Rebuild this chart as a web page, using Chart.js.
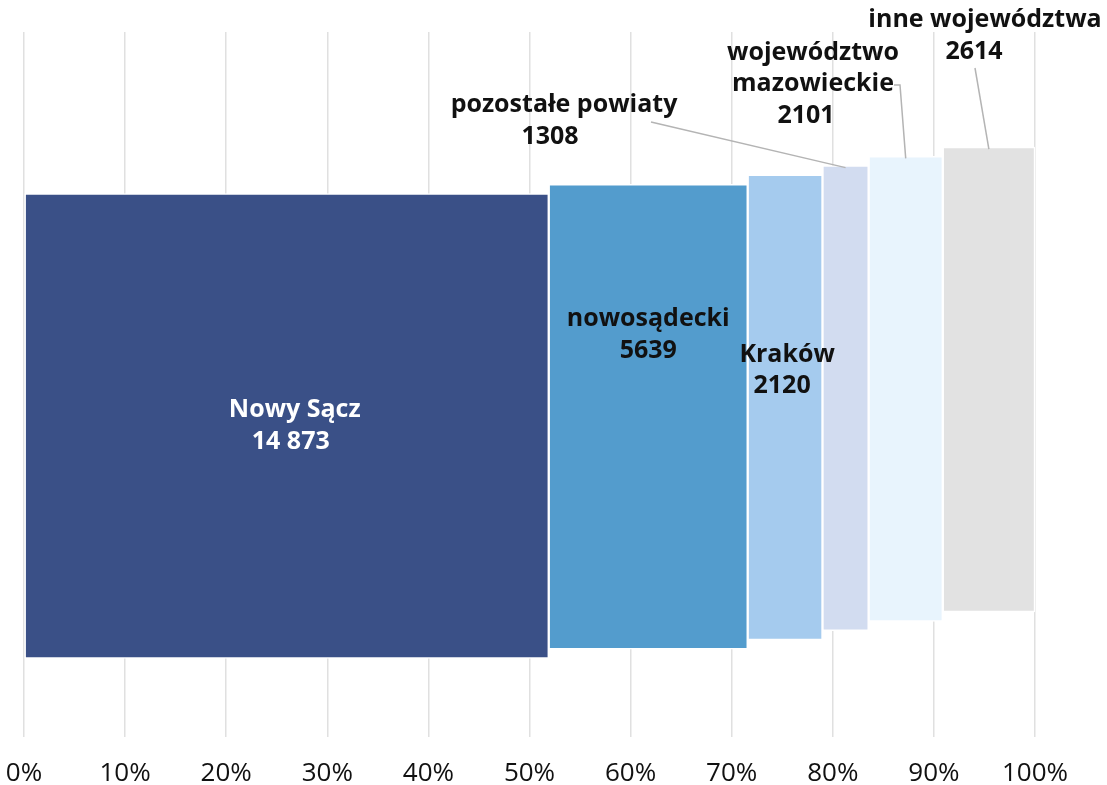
<!DOCTYPE html>
<html>
<head>
<meta charset="utf-8">
<script src="https://cdn.jsdelivr.net/npm/chart.js@4.4.1/dist/chart.umd.min.js"></script>
<style>
  html, body { margin: 0; padding: 0; background: #fff; }
  #wrap { width: 1107px; height: 785px; position: relative; }
</style>
</head>
<body>
<div id="wrap"><canvas id="mekko"></canvas></div>
<script>
// dane
const categories = ['Nowy Sącz', 'nowosądecki', 'Kraków', 'pozostałe powiaty', 'województwo mazowieckie', 'inne województwa'];
const values = [14873, 5639, 2120, 1308, 2101, 2614];
const barColors = ['#3a5087', '#539ccd', '#a5cbee', '#d2dcf0', '#e8f4fd', '#e2e2e2'];
const tickValues = [0, 10, 20, 30, 40, 50, 60, 70, 80, 90, 100];

// liczby w formacie polskim (spacja tysięcy)
function fmt(v) {
    return v >= 10000 ? String(v).replace(/\B(?=(\d{3})+(?!\d))/g, ' ') : String(v);
}

// szerokości w procentach, skumulowane
const total = values.reduce((a, b) => a + b, 0);
let acc = 0;
const spans = values.map(v => {
    const s = acc / total * 100;
    acc += v;
    return [s, acc / total * 100];
});

/* ===== etykiety i linie odniesienia ===== */
const labelPlugin = {
    id: 'mekkoLabels',
    afterDatasetsDraw(chart, args, opts) {
        const ctx = chart.ctx;
        const bars = chart.getDatasetMeta(0).data;
        ctx.save();
        ctx.font = 'bold 25px "Open Sans"';
        ctx.textAlign = 'center';
        ctx.textBaseline = 'middle';

        opts.items.forEach((it, i) => {
            const bar = bars[i].getProps(['x', 'y', 'base', 'height'], true);
            const cx = (bar.x + bar.base) / 2;
            const top = bar.y - bar.height / 2;
            const textLines = (it.split || [categories[i]]).concat([fmt(values[i])]);

            let tx, ty;
            if (it.inside) {
                tx = cx + (it.dx || 0);
                ty = bar.y + it.dy;
            } else {
                tx = it.x;
                ty = it.y;
                // linia odniesienia
                ctx.strokeStyle = '#b4b4b4';
                ctx.lineWidth = 1.5;
                ctx.beginPath();
                ctx.moveTo(it.line[0][0], it.line[0][1]);
                for (let k = 1; k < it.line.length; k++) ctx.lineTo(it.line[k][0], it.line[k][1]);
                ctx.lineTo(cx, top + 2);
                ctx.stroke();
            }
            ctx.fillStyle = it.color || '#111';
            const lh = 31.5;
            const start = ty - (textLines.length - 1) * lh / 2;
            textLines.forEach((t, k) => {
                const last = k === textLines.length - 1;
                ctx.fillText(t, tx + (last ? (it.numDx || 0) : 0), start + k * lh);
            });
        });
        ctx.restore();
    }
};

new Chart(document.getElementById('mekko'), {
    type: 'bar',
    data: {
        datasets: [{
            data: spans.map((s, i) => ({ x: s, y: i })),
            backgroundColor: barColors,
            borderColor: '#ffffff',
            borderWidth: 1.5,
            borderSkipped: false,
            barThickness: 465
        }]
    },
    options: {
        indexAxis: 'y',
        responsive: true,
        maintainAspectRatio: false,
        animation: false,
        layout: { padding: { left: 24, right: 72, top: 32, bottom: 0 } },
        plugins: {
            legend: { display: false },
            tooltip: { enabled: false },
            mekkoLabels: {
                items: [
                    { inside: true, dx: 8, dy: 0, color: '#ffffff', numDx: -4 },
                    { inside: true, dy: -82 },
                    { inside: true, dx: 2, dy: -37, numDx: -5 },
                    { x: 564, y: 121, numDx: -14, line: [[651, 122]] },
                    { x: 813, y: 84, numDx: -7, split: ['województwo', 'mazowieckie'], line: [[894, 85], [900, 85]] },
                    { x: 985, y: 36, numDx: -11, line: [[975, 68]] }
                ]
            }
        },
        scales: {
            x: {
                type: 'linear',
                min: 0,
                max: 100,
                afterBuildTicks: (axis) => { axis.ticks = tickValues.map(v => ({ value: v })); },
                afterFit: (axis) => {
                    axis.height = 48;
                    axis.paddingLeft = 0;
                    axis.paddingRight = 0;
                },
                grid: { color: '#e0e0e0', lineWidth: 1.5, drawTicks: false },
                border: { display: false },
                ticks: {
                    padding: 24,
                    maxRotation: 0,
                    color: '#111',
                    font: { family: '"Open Sans"', size: 26, lineHeight: 1.0 },
                    callback: v => v + '%'
                }
            },
            y: {
                type: 'linear',
                display: false,
                offset: false,
                min: -33.44,
                max: 42.37
            }
        }
    },
    plugins: [labelPlugin]
});
</script>
</body>
</html>
